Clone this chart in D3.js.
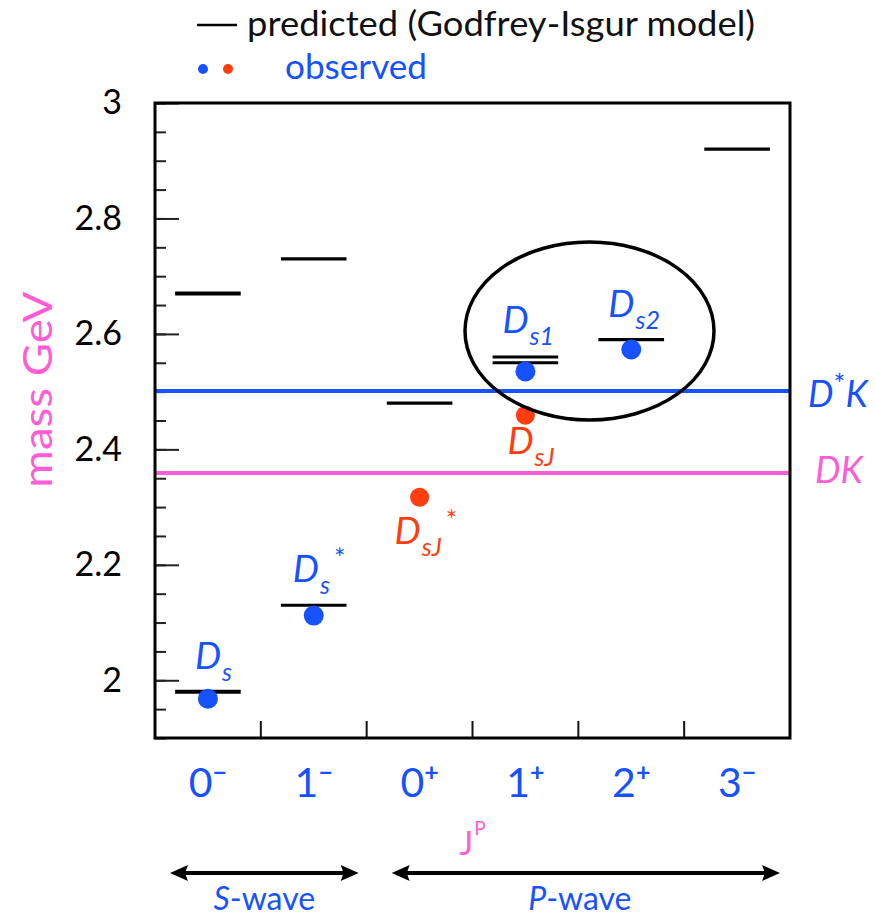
<!DOCTYPE html>
<html>
<head>
<meta charset="utf-8">
<script src="https://cdn.jsdelivr.net/npm/d3@7"></script>
<style>
  body { margin: 0; background: #fff; }
  text { font-family: Lato, "Open Sans", sans-serif; }
</style>
</head>
<body>
<div id="chart-area"></div>
<script>
// Ds meson spectrum: predicted levels vs observed states

// categories (J^P)
let categories = ["0-", "1-", "0+", "1+", "2+", "3-"];
let spinLabels = ["0", "1", "0", "1", "2", "3"];
let parityLabels = ["\u2212", "\u2212", "+", "+", "+", "\u2212"];

// predicted masses (GeV)
let predCat  = ["0-", "0-", "1-", "1-", "0+", "1+", "1+", "2+", "3-"];
let predMass = [1.98, 2.67, 2.13, 2.73, 2.48, 2.55, 2.56, 2.59, 2.92];

// observed states
let obsName  = ["Ds", "Ds*", "DsJ*", "DsJ", "Ds1", "Ds2"];
let obsCat   = ["0-", "1-", "0+", "1+", "1+", "2+"];
let obsMass  = [1.968, 2.112, 2.317, 2.459, 2.535, 2.573];
let obsGroup = ["blue", "blue", "red", "red", "blue", "blue"];

// thresholds
let threshName = ["D*K", "DK"];
let threshMass = [2.501, 2.359];

// y ticks
let yTicks = [2, 2.2, 2.4, 2.6, 2.8, 3];

let BLUE = "#1652ff", RED = "#ff3d10", PINK = "#ff5cd6";

let width = 875, height = 917;
let plot = { left: 155, right: 790, top: 103, bottom: 738 };

let svg = d3.select("#chart-area")
    .append("svg")
    .attr("width", width)
    .attr("height", height);

let x = d3.scaleBand()
    .domain(categories)
    .range([plot.left, plot.right])
    .padding(0);

let y = d3.scaleLinear()
    .domain([1.9, 3.0])
    .range([plot.bottom, plot.top]);

let xc = function(c){ return x(c) + x.bandwidth() / 2; };

// Legend
svg.append("line")
    .attr("x1", 197).attr("x2", 237)
    .attr("y1", 25).attr("y2", 25)
    .attr("stroke", "black")
    .attr("stroke-width", 2.5);

svg.append("text")
    .attr("x", 247).attr("y", 36)
    .attr("font-size", "34px")
    .attr("fill", "#111")
    .attr("textLength", 508)
    .attr("lengthAdjust", "spacingAndGlyphs")
    .text("predicted (Godfrey-Isgur model)");

svg.append("circle").attr("cx", 203).attr("cy", 69).attr("r", 5).attr("fill", BLUE);
svg.append("circle").attr("cx", 228).attr("cy", 69).attr("r", 5).attr("fill", RED);

svg.append("text")
    .attr("x", 285).attr("y", 79)
    .attr("font-size", "34px")
    .attr("fill", BLUE)
    .attr("textLength", 142)
    .attr("lengthAdjust", "spacingAndGlyphs")
    .text("observed");

// Y minor ticks
let minorAxis = d3.axisLeft(y)
    .tickValues(y.ticks(22))
    .tickSizeInner(-11)
    .tickSizeOuter(0)
    .tickFormat("");
let gMinor = svg.append("g")
    .attr("transform", "translate(" + plot.left + ",0)")
    .call(minorAxis);
gMinor.select(".domain").remove();
gMinor.selectAll("line").attr("stroke", "#222").attr("stroke-width", 2);

// Y major ticks + labels
let yAxisCall = d3.axisLeft(y)
    .tickValues(yTicks)
    .tickSizeInner(-24)
    .tickSizeOuter(0)
    .tickPadding(33)
    .tickFormat(function(d){ return d3.format("~g")(d); });
let gY = svg.append("g")
    .attr("transform", "translate(" + plot.left + ",0)")
    .call(yAxisCall);
gY.select(".domain").remove();
gY.selectAll("line").attr("stroke", "#222").attr("stroke-width", 2);
gY.selectAll("text")
    .attr("font-family", "'Liberation Sans', Arial, sans-serif")
    .attr("font-size", "34px")
    .attr("fill", "black");

// Bottom ticks at category boundaries
svg.append("g")
    .selectAll("line")
    .data(categories.slice(1))
    .enter()
    .append("line")
        .attr("x1", function(d){ return x(d); })
        .attr("x2", function(d){ return x(d); })
        .attr("y1", plot.bottom)
        .attr("y2", plot.bottom - 17)
        .attr("stroke", "#111")
        .attr("stroke-width", 2);

// Threshold lines
let threshColor = [BLUE, PINK];
svg.append("g")
    .selectAll("line")
    .data(threshMass)
    .enter()
    .append("line")
        .attr("x1", plot.left)
        .attr("x2", plot.right)
        .attr("y1", function(d){ return y(d); })
        .attr("y2", function(d){ return y(d); })
        .attr("stroke", function(d, i){ return threshColor[i]; })
        .attr("stroke-width", 4);

// Frame
svg.append("rect")
    .attr("x", plot.left)
    .attr("y", plot.top)
    .attr("width", plot.right - plot.left)
    .attr("height", plot.bottom - plot.top)
    .attr("fill", "none")
    .attr("stroke", "black")
    .attr("stroke-width", 3);

// Predicted levels
let half = x.bandwidth() * 0.31;
svg.append("g")
    .selectAll("line")
    .data(predMass)
    .enter()
    .append("line")
        .attr("x1", function(d, i){ return xc(predCat[i]) - half; })
        .attr("x2", function(d, i){ return xc(predCat[i]) + half; })
        .attr("y1", function(d){ return y(d); })
        .attr("y2", function(d){ return y(d); })
        .attr("stroke", "black")
        .attr("stroke-width", function(d, i){ return (predCat[i] === "0-") ? 4 : 3.2; });

// Observed points
svg.append("g")
    .selectAll("circle")
    .data(obsMass)
    .enter()
    .append("circle")
        .attr("cx", function(d, i){ return xc(obsCat[i]); })
        .attr("cy", function(d){ return y(d); })
        .attr("r", function(d, i){ return obsGroup[i] === "blue" ? 10 : 9.5; })
        .attr("fill", function(d, i){ return obsGroup[i] === "blue" ? BLUE : RED; });

// Ellipse around Ds1 / Ds2
svg.append("ellipse")
    .attr("cx", 589.5)
    .attr("cy", 331)
    .attr("rx", 124.5)
    .attr("ry", 89)
    .attr("fill", "none")
    .attr("stroke", "black")
    .attr("stroke-width", 3.5);

// Particle labels: [D offset x, baseline offset y, subscript, star]
let labelLayout = {
    "Ds":   [-13, -30, "s",  false],
    "Ds*":  [-21, -34, "s",  true],
    "DsJ*": [-25,  47, "sJ", true],
    "DsJ":  [-18,  39, "sJ", false],
    "Ds1":  [-23, -38, "s1", false],
    "Ds2":  [-23, -32, "s2", false]
};

obsName.forEach(function(name, i){
    let lay = labelLayout[name];
    let col = obsGroup[i] === "blue" ? BLUE : RED;
    let t = svg.append("text")
        .attr("x", xc(obsCat[i]) + lay[0])
        .attr("y", y(obsMass[i]) + lay[1])
        .attr("fill", col)
        .attr("font-style", "italic");
    t.append("tspan").attr("font-size", "37px").text("D");
    t.append("tspan").attr("font-size", "25px").attr("dx", 1).attr("dy", 12).text(lay[2]);
    if (lay[3]) {
        t.append("tspan").attr("font-size", "27px").attr("font-style", "normal")
            .attr("dx", 4).attr("dy", -26).text("*");
    }
});

// Threshold labels
let threshLayout = [[808, 16], [815, 10]];
threshName.forEach(function(name, i){
    let t = svg.append("text")
        .attr("x", threshLayout[i][0])
        .attr("y", y(threshMass[i]) + threshLayout[i][1])
        .attr("fill", threshColor[i])
        .attr("font-style", "italic")
        .attr("font-size", "36px");
    if (name === "D*K") {
        t.append("tspan").text("D");
        t.append("tspan").attr("font-size", "28px").attr("font-style", "normal")
            .attr("dy", -12).text("*");
        t.append("tspan").attr("dy", 12).text("K");
    } else {
        t.append("tspan").text("DK");
    }
});

// X tick labels (J^P)
categories.forEach(function(c, i){
    let t = svg.append("text")
        .attr("x", xc(c))
        .attr("y", 797)
        .attr("text-anchor", "middle")
        .attr("fill", BLUE);
    t.append("tspan").attr("font-size", "41px").text(spinLabels[i]);
    t.append("tspan").attr("font-size", "25px").attr("font-weight", "bold")
        .attr("dy", -16).text(parityLabels[i]);
});

// J^P axis title
let jp = svg.append("text")
    .attr("x", x("1+"))
    .attr("y", 855)
    .attr("text-anchor", "middle")
    .attr("fill", PINK);
jp.append("tspan").attr("font-size", "33px").text("J");
jp.append("tspan").attr("font-size", "19px").attr("dx", 1).attr("dy", -20).text("P");

// Y axis title
svg.append("text")
    .attr("transform", "translate(52," + ((y(2.3) + y(2.7)) / 2 - 2) + ") rotate(-90)")
    .attr("text-anchor", "middle")
    .attr("font-size", "41px")
    .attr("fill", PINK)
    .attr("textLength", 196)
    .attr("lengthAdjust", "spacingAndGlyphs")
    .text("mass GeV");

// S-wave / P-wave arrows
function arrow(x1, x2, yy) {
    svg.append("line")
        .attr("x1", x1 + 10).attr("x2", x2 - 10)
        .attr("y1", yy).attr("y2", yy)
        .attr("stroke", "black").attr("stroke-width", 4);
    svg.append("path")
        .attr("d", "M" + x1 + "," + yy + " L" + (x1 + 18) + "," + (yy - 8) + " L" + (x1 + 15) + "," + yy +
                   " L" + (x1 + 18) + "," + (yy + 8) + "Z")
        .attr("fill", "black");
    svg.append("path")
        .attr("d", "M" + x2 + "," + yy + " L" + (x2 - 18) + "," + (yy - 8) + " L" + (x2 - 15) + "," + yy +
                   " L" + (x2 - 18) + "," + (yy + 8) + "Z")
        .attr("fill", "black");
}
let arrowY = 873;
let sStart = x("0-") + 15, sEnd = x("1-") + x.bandwidth() - 8;
let pStart = x("0+") + 25, pEnd = x("3-") + x.bandwidth() - 10;
arrow(sStart, sEnd, arrowY);
arrow(pStart, pEnd, arrowY);

let sw = svg.append("text")
    .attr("x", (sStart + sEnd) / 2).attr("y", 910)
    .attr("text-anchor", "middle").attr("font-size", "32px").attr("fill", BLUE);
sw.append("tspan").attr("font-style", "italic").text("S");
sw.append("tspan").text("-wave");

let pw = svg.append("text")
    .attr("x", (pStart + pEnd) / 2 - 6).attr("y", 910)
    .attr("text-anchor", "middle").attr("font-size", "32px").attr("fill", BLUE);
pw.append("tspan").attr("font-style", "italic").text("P");
pw.append("tspan").text("-wave");
</script>
</body>
</html>
